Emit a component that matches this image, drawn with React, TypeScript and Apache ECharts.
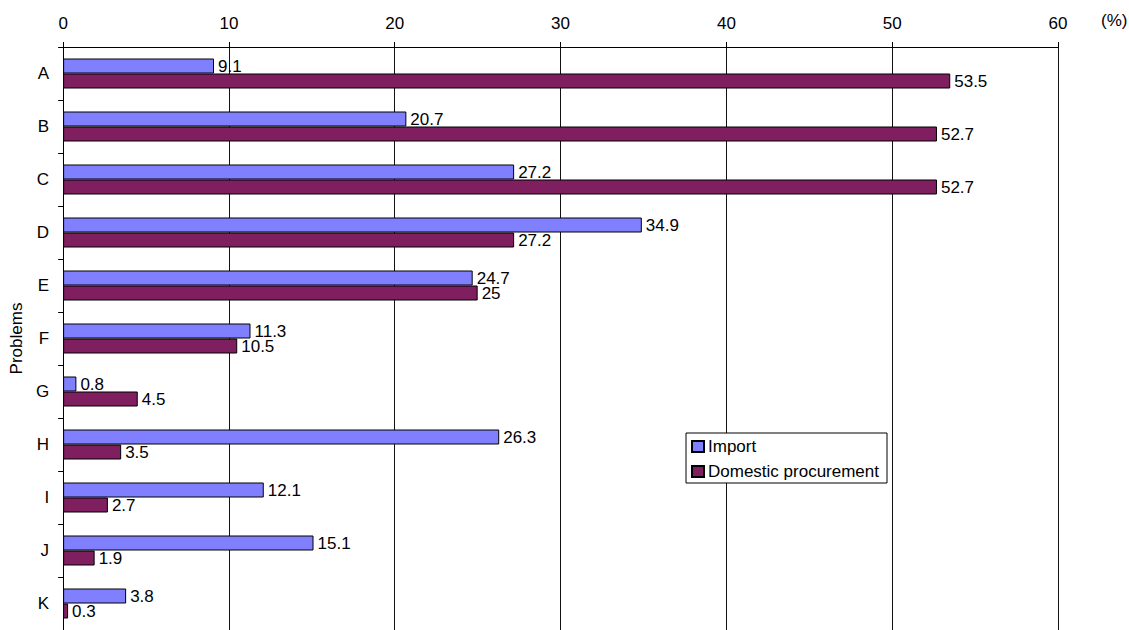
import React, { useEffect, useRef } from "react";
import * as echarts from "echarts";

const categories = ["A", "B", "C", "D", "E", "F", "G", "H", "I", "J", "K"];
const importValues = [9.1, 20.7, 27.2, 34.9, 24.7, 11.3, 0.8, 26.3, 12.1, 15.1, 3.8];
const domesticValues = [53.5, 52.7, 52.7, 27.2, 25, 10.5, 4.5, 3.5, 2.7, 1.9, 0.3];
const seriesNames = ["Import", "Domestic procurement"];
const xMin = 0;
const xMax = 60;
const xInterval = 10;

const FONT = "'Liberation Sans', Arial, sans-serif";

export default function App() {
  const ref = useRef<HTMLDivElement>(null);
  useEffect(() => {
    const chart = echarts.init(ref.current!, null, { renderer: "svg" });
    const label = {
      show: true,
      position: "right" as const,
      distance: 4,
      color: "#000",
      fontFamily: FONT,
      fontSize: 17,
    };
    chart.setOption({
      animation: false,
      backgroundColor: "#fff",
      textStyle: { fontFamily: FONT },
      grid: { left: 62, top: 47, width: 996, height: 587, containLabel: false },
      legend: {
        orient: "vertical",
        left: 686,
        top: 433,
        backgroundColor: "#fff",
        borderColor: "#000",
        borderWidth: 1,
        borderRadius: 0,
        padding: [5, 8, 3, 5],
        itemWidth: 12,
        itemHeight: 11,
        itemGap: 8,
        icon: "rect",
        textStyle: { fontFamily: FONT, fontSize: 17, color: "#000", padding: [0, 0, 0, -1] },
        data: seriesNames,
      },
      graphic: [
        {
          type: "text",
          x: 1101,
          y: 20,
          style: { text: "(%)", font: `17px ${FONT}`, fill: "#000", verticalAlign: "middle" },
        },
      ],
      xAxis: {
        type: "value",
        position: "top",
        min: xMin,
        max: xMax,
        interval: xInterval,
        axisLine: { show: true, lineStyle: { color: "#000", width: 1 } },
        axisTick: { show: true, length: 5, lineStyle: { color: "#000" } },
        axisLabel: { color: "#000", fontSize: 17, fontFamily: FONT, margin: 15 },
        splitLine: { show: true, lineStyle: { color: "#111", width: 1 } },
      },
      yAxis: {
        type: "category",
        data: categories,
        inverse: true,
        name: "Problems",
        nameLocation: "middle",
        nameGap: 37,
        nameTextStyle: { color: "#000", fontSize: 17, fontFamily: FONT },
        axisLine: { show: true, lineStyle: { color: "#000", width: 1 } },
        axisTick: { show: true, length: 5, lineStyle: { color: "#000" } },
        axisLabel: { color: "#000", fontSize: 17, fontFamily: FONT, margin: 14 },
      },
      series: [
        {
          name: seriesNames[0],
          type: "bar",
          data: importValues,
          barWidth: 15,
          barGap: "0%",
          itemStyle: { color: "#8080FF", borderColor: "#000", borderWidth: 1 },
          label,
        },
        {
          name: seriesNames[1],
          type: "bar",
          data: domesticValues,
          barWidth: 15,
          barGap: "0%",
          itemStyle: { color: "#7F1F5F", borderColor: "#000", borderWidth: 1 },
          label,
        },
      ],
    });
    return () => chart.dispose();
  }, []);
  return (
    <div
      ref={ref}
      style={{ position: "absolute", left: 0, top: 0, width: 1129, height: 630 }}
    />
  );
}
